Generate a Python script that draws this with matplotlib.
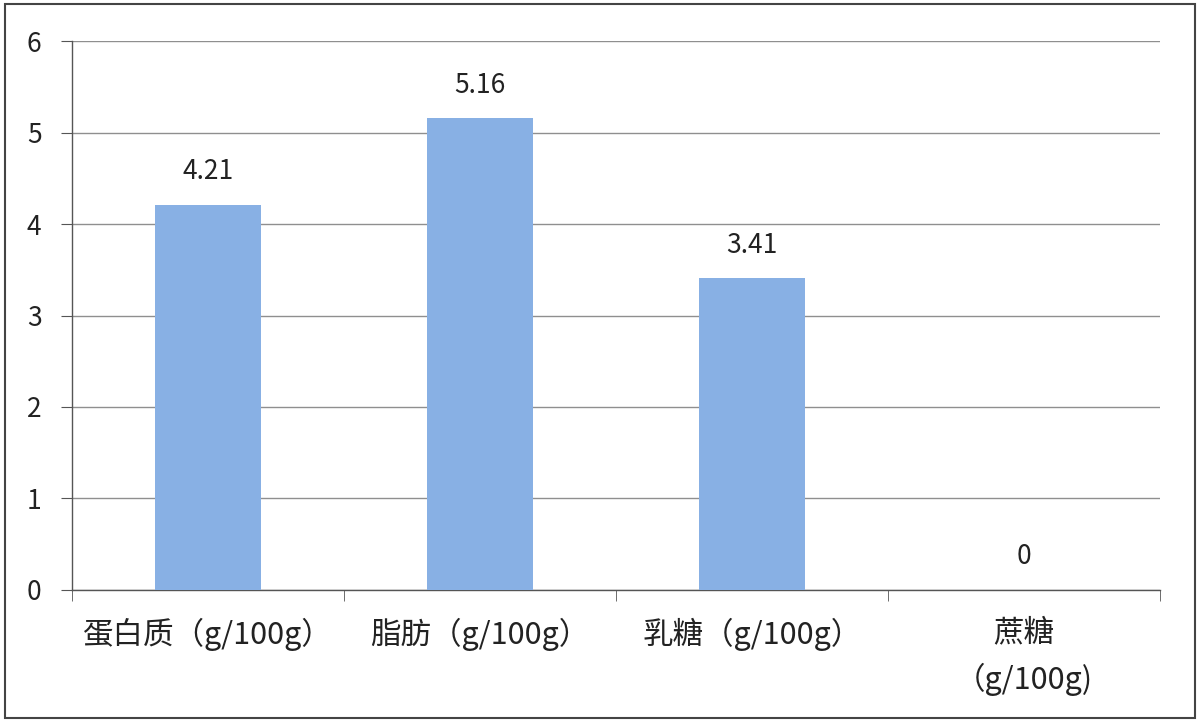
import matplotlib
matplotlib.use("Agg")
import matplotlib.pyplot as plt
from matplotlib.patches import Rectangle

plt.rcParams['font.family'] = ['Noto Sans CJK SC', 'DejaVu Sans']

categories = ["蛋白质（g/100g）", "脂肪（g/100g）", "乳糖（g/100g）", "蔗糖\n（g/100g)"]
values = [4.21, 5.16, 3.41, 0]
value_labels = ["4.21", "5.16", "3.41", "0"]
y_ticks = [0, 1, 2, 3, 4, 5, 6]

fig = plt.figure(figsize=(12, 7.22), dpi=100)
fig.patch.set_facecolor("white")
ax = fig.add_axes([0.06, 0.183, 0.9067, 0.760])

x = list(range(len(categories)))
ax.bar(x, values, width=0.39, color="#88b0e4", zorder=3)

for xi, v, lab in zip(x, values, value_labels):
    ax.annotate(lab, (xi, v), xytext=(0, 14), textcoords="offset points",
                ha="center", va="bottom", fontsize=19, color="#222222")

ax.set_xlim(-0.5, len(categories) - 0.5)
ax.set_ylim(0, 6)
ax.set_yticks(y_ticks)
ax.tick_params(axis="y", labelsize=19, length=8, color="#555555", pad=14,
               labelcolor="#222222")
ax.yaxis.grid(True, color="#8f8f8f", linewidth=1, zorder=0)

ax.set_xticks(x)
ax.set_xticklabels(categories, fontsize=22, color="#222222", linespacing=1.55,
                   va="top")
ax.tick_params(axis="x", length=0, pad=20)
ax.set_xticks([i - 0.5 for i in range(len(categories) + 1)], minor=True)
ax.tick_params(axis="x", which="minor", length=8, color="#555555")

for s in ["top", "right"]:
    ax.spines[s].set_visible(False)
for s in ["left", "bottom"]:
    ax.spines[s].set_color("#555555")
    ax.spines[s].set_linewidth(1)

fig.patches.append(Rectangle((0.004, 0.005), 0.992, 0.99, transform=fig.transFigure,
                             fill=False, edgecolor="#444444", linewidth=1.5))

fig.savefig("out.png", dpi=100)
